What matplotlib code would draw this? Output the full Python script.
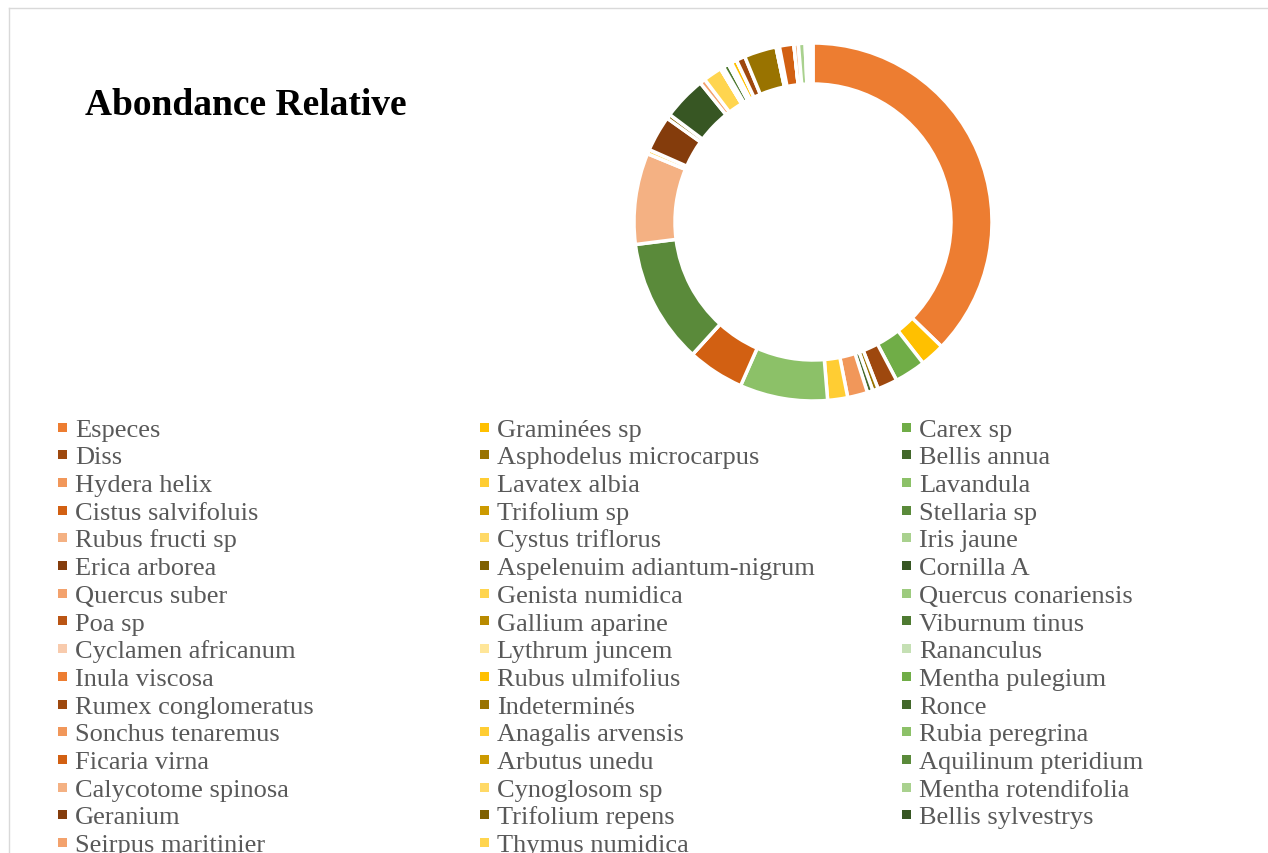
import matplotlib
matplotlib.use("Agg")
import matplotlib.pyplot as plt
from matplotlib.patches import Rectangle
from matplotlib.lines import Line2D

W, H = 1268, 854

# series names in the order of the data (legend is read row by row)
species = [
    "Especes", "Graminées sp", "Carex sp",
    "Diss", "Asphodelus microcarpus", "Bellis annua",
    "Hydera helix", "Lavatex albia", "Lavandula",
    "Cistus salvifoluis", "Trifolium sp", "Stellaria sp",
    "Rubus fructi sp", "Cystus triflorus", "Iris jaune",
    "Erica arborea", "Aspelenuim adiantum-nigrum", "Cornilla A",
    "Quercus suber", "Genista numidica", "Quercus conariensis",
    "Poa sp", "Gallium aparine", "Viburnum tinus",
    "Cyclamen africanum", "Lythrum juncem", "Rananculus",
    "Inula viscosa", "Rubus ulmifolius", "Mentha pulegium",
    "Rumex conglomeratus", "Indeterminés", "Ronce",
    "Sonchus tenaremus", "Anagalis arvensis", "Rubia peregrina",
    "Ficaria virna", "Arbutus unedu", "Aquilinum pteridium",
    "Calycotome spinosa", "Cynoglosom sp", "Mentha rotendifolia",
    "Geranium", "Trifolium repens", "Bellis sylvestrys",
    "Seirpus maritinier", "Thymus numidica",
]

# relative abundance (%) read from the ring
abundance = [
    37.1, 2.2, 2.8,
    1.8, 0.5, 0.5,
    1.8, 1.8, 7.9,
    5.1, 0.0, 11.2,
    8.2, 0.4, 0.0,
    3.2, 0.4, 3.9,
    0.5, 1.7, 0.0,
    0.0, 0.3, 0.5,
    0.0, 0.3, 0.0,
    0.0, 0.5, 0.0,
    0.8, 2.9, 0.0,
    0.3, 0.0, 0.0,
    1.3, 0.0, 0.0,
    0.4, 0.0, 0.6,
    0.25, 0.0, 0.25,
    0.0, 0.2,
]

# Excel colour cycle (27 variations of orange / gold / green)
palette = [
    "#ED7D31", "#FFC000", "#70AD47",
    "#9E480E", "#997300", "#43682B",
    "#F1975A", "#FFCD33", "#8CC168",
    "#D26012", "#CC9A00", "#5A8A3A",
    "#F4B183", "#FFD966", "#A9D18E",
    "#843C0C", "#7F6000", "#375623",
    "#F3A26D", "#FFD54F", "#9DCB7E",
    "#BA5514", "#B88A00", "#4E7A31",
    "#F8CBAD", "#FFE699", "#C5E0B4",
]
colors = [palette[i % len(palette)] for i in range(len(species))]

plt.rcParams["font.family"] = ["Liberation Serif", "DejaVu Serif"]

fig = plt.figure(figsize=(W / 100, H / 100), dpi=100)


def fx(x):
    return x / W


def fy(y):
    return 1 - y / H


# chart area border (left and top visible)
fig.add_artist(Line2D([fx(9), fx(9)], [fy(9), 0], color="#D9D9D9", lw=1))
fig.add_artist(Line2D([fx(9), 1], [fy(9), fy(9)], color="#D9D9D9", lw=1))

fig.text(fx(85), fy(115), "Abondance Relative", fontsize=27,
         fontweight="bold", color="black", va="baseline", ha="left")

# donut
cx, cy, r_out, r_in = 813, 223, 179, 138
half = 200
ax = fig.add_axes([fx(cx - half), fy(cy + half), 2 * half / W, 2 * half / H])
ax.pie(abundance, colors=colors, startangle=90, counterclock=False,
       radius=1.0,
       wedgeprops=dict(width=(r_out - r_in) / r_out, edgecolor="white",
                       linewidth=2.5))
lim = half / r_out
ax.set_xlim(-lim, lim)
ax.set_ylim(-lim, lim)
ax.set_aspect("equal")
ax.axis("off")

# legend, three columns filled row by row (bottom row is cut off as in the source)
col_sq = [62.5, 484.5, 906]
col_tx = [75, 497, 919]
row0, row_h = 428, 27.7
sq = 9
for i, (name, c) in enumerate(zip(species, colors)):
    row, col = divmod(i, 3)
    yc = row0 + row * row_h
    fig.add_artist(Rectangle((fx(col_sq[col] - sq / 2), fy(yc + sq / 2)),
                             sq / W, sq / H, transform=fig.transFigure,
                             facecolor=c, edgecolor="none"))
    fig.text(fx(col_tx[col]), fy(yc + 8.7), name, fontsize=19,
             color="#595959", va="baseline", ha="left")

fig.savefig("out.png", dpi=100)
